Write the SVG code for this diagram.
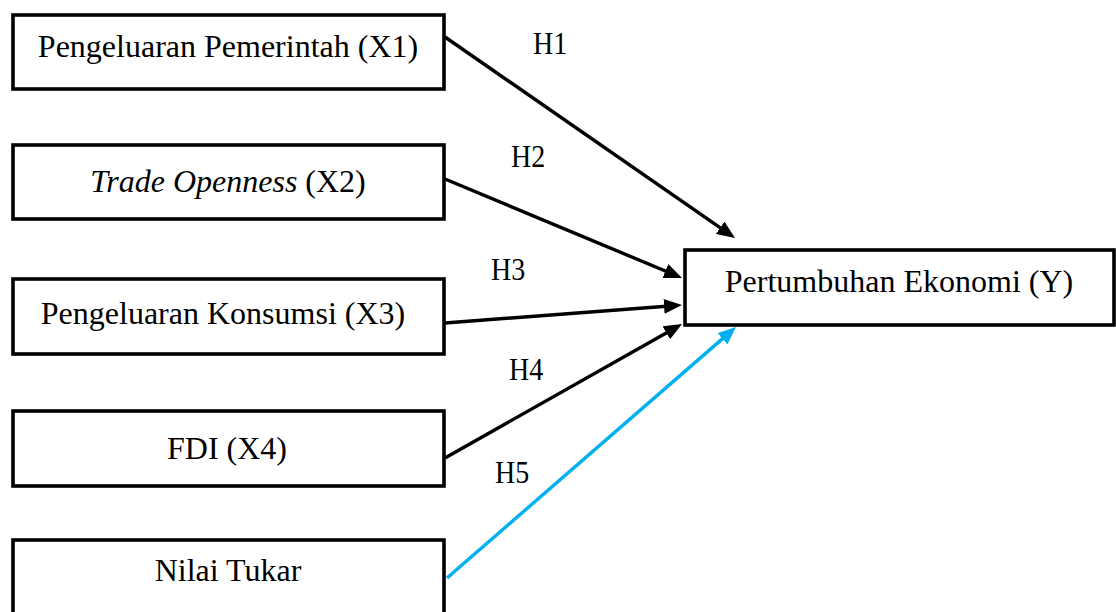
<svg xmlns="http://www.w3.org/2000/svg" width="1116" height="612" viewBox="0 0 1116 612">
<style>
.box{fill:#fff;stroke:#000;stroke-width:3.6}
.t{font-family:"Liberation Serif","Times New Roman",serif;font-size:32px;fill:#000;text-anchor:middle}
.h{font-family:"Liberation Serif","Times New Roman",serif;font-size:28px;fill:#000}
.ln{stroke:#000;stroke-width:3.4;fill:none}
.bl{stroke:#00B0F0;stroke-width:3.4;fill:none}
</style>
<defs>
<marker id="ab" markerUnits="userSpaceOnUse" markerWidth="19" markerHeight="16" refX="9" refY="7.5" orient="auto"><path d="M0,0 L18,7.5 L0,15 Z" fill="#000"/></marker>
<marker id="ac" markerUnits="userSpaceOnUse" markerWidth="19" markerHeight="16" refX="9" refY="7.5" orient="auto"><path d="M0,0 L18,7.5 L0,15 Z" fill="#00B0F0"/></marker>
</defs>
<rect width="1116" height="612" fill="#fff"/>
<g id="connectors">
<line class="ln" x1="445" y1="37" x2="727.6" y2="232.9" marker-end="url(#ab)"/>
<line class="ln" x1="445" y1="179" x2="673.7" y2="274.5" marker-end="url(#ab)"/>
<line class="ln" x1="445" y1="323" x2="673" y2="305.7" marker-end="url(#ab)"/>
<line class="ln" x1="445" y1="458" x2="674.2" y2="328.4" marker-end="url(#ab)"/>
<line class="bl" x1="447" y1="578" x2="729.2" y2="332.9" marker-end="url(#ac)"/>
<text class="h" transform="translate(533,54) scale(1,1.16)">H1</text>
<text class="h" transform="translate(511,167) scale(1,1.16)">H2</text>
<text class="h" transform="translate(491,280) scale(1,1.16)">H3</text>
<text class="h" transform="translate(509,380) scale(1,1.16)">H4</text>
<text class="h" transform="translate(495,483) scale(1,1.16)">H5</text>
</g>
<g id="x1"><rect class="box" x="13" y="15" width="431" height="74"/><text class="t" x="228" y="57">Pengeluaran Pemerintah (X1)</text></g>
<g id="x2"><rect class="box" x="13" y="145" width="431" height="74"/><text class="t" x="228" y="192"><tspan font-style="italic">Trade Openness</tspan> (X2)</text></g>
<g id="x3"><rect class="box" x="13" y="279" width="431" height="75"/><text class="t" x="223" y="324">Pengeluaran Konsumsi (X3)</text></g>
<g id="x4"><rect class="box" x="13" y="411" width="431" height="75"/><text class="t" x="227" y="459">FDI (X4)</text></g>
<g id="x5"><rect class="box" x="13" y="540" width="431" height="100"/><text class="t" x="228" y="581">Nilai Tukar</text></g>
<g id="y"><rect class="box" x="685" y="250" width="429" height="75"/><text class="t" x="899" y="292">Pertumbuhan Ekonomi (Y)</text></g>
</svg>
